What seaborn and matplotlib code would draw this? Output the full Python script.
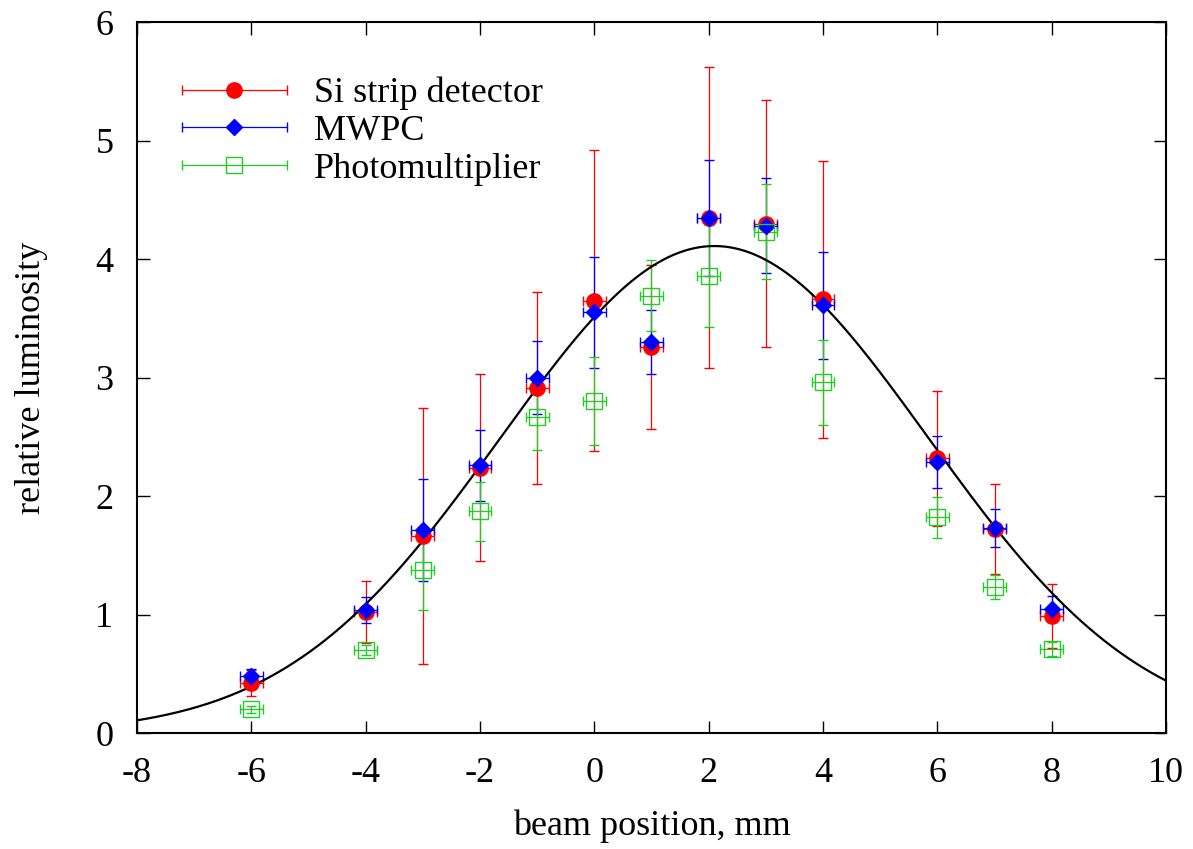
import numpy as np
import matplotlib
matplotlib.use("Agg")
import matplotlib.pyplot as plt
import seaborn as sns
from matplotlib.container import ErrorbarContainer
from matplotlib.legend_handler import HandlerErrorbar

# beam positions (mm), same for all three detectors
beam_pos = [-6, -4, -3, -2, -1, 0, 1, 2, 3, 4, 6, 7, 8]
pos_err = 0.2

si_lum = [0.42, 1.02, 1.66, 2.24, 2.91, 3.65, 3.26, 4.35, 4.30, 3.66, 2.32, 1.72, 0.99]
si_err = [0.11, 0.26, 1.08, 0.79, 0.81, 1.27, 0.69, 1.27, 1.04, 1.17, 0.57, 0.38, 0.27]

mwpc_lum = [0.48, 1.04, 1.71, 2.26, 3.00, 3.55, 3.30, 4.35, 4.28, 3.61, 2.29, 1.73, 1.05]
mwpc_err = [0.06, 0.11, 0.43, 0.30, 0.31, 0.47, 0.27, 0.49, 0.40, 0.45, 0.22, 0.16, 0.11]

pm_lum = [0.20, 0.70, 1.38, 1.87, 2.67, 2.80, 3.69, 3.86, 4.23, 2.96, 1.82, 1.23, 0.71]
pm_err = [0.03, 0.04, 0.34, 0.25, 0.28, 0.37, 0.30, 0.43, 0.40, 0.36, 0.17, 0.10, 0.06]

# gaussian fit drawn through the points
fit_amp, fit_mean, fit_sigma = 4.11, 2.1, 3.74

sns.set_style("ticks")
plt.rcParams["font.family"] = ["Liberation Serif", "DejaVu Serif"]
plt.rcParams["font.size"] = 26
plt.rcParams["axes.unicode_minus"] = False
plt.rcParams["xtick.direction"] = "in"
plt.rcParams["ytick.direction"] = "in"
plt.rcParams["xtick.top"] = True
plt.rcParams["ytick.right"] = True
for key in ["text.color", "axes.labelcolor", "xtick.color", "ytick.color", "axes.edgecolor"]:
    plt.rcParams[key] = "black"

fig = plt.figure(figsize=(11.93, 8.49), dpi=100)
ax = fig.add_axes([0.1148, 0.1366, 0.8626, 0.8374])

series = [
    ("Si strip detector", si_lum, si_err, "o", "red", 11, "red"),
    ("MWPC", mwpc_lum, mwpc_err, "D", "blue", 8, "blue"),
    ("Photomultiplier", pm_lum, pm_err, "s", "#22cc22", 11, "none"),
]

for name, lum, err, mk, col, ms, face in series:
    ax.errorbar(beam_pos, lum, yerr=err, xerr=pos_err, fmt=mk, color=col,
                ms=ms, mfc=face, mec=col, mew=1.0, elinewidth=0.9,
                capsize=3.6, capthick=0.9, label="_nolegend_")
    # legend sample: horizontal bar only, like gnuplot's key
    ax.errorbar([np.nan], [np.nan], xerr=[pos_err], fmt=mk, color=col,
                ms=ms, mfc=face, mec=col, mew=1.0, elinewidth=0.9,
                capsize=3.6, capthick=0.9, label=name)

fit_x = np.linspace(-8, 10, 400)
fit_y = fit_amp * np.exp(-(fit_x - fit_mean) ** 2 / (2 * fit_sigma ** 2))
sns.lineplot(x=fit_x, y=fit_y, color="black", lw=1.6, ax=ax)

ax.set_xlim(-8, 10)
ax.set_ylim(0, 6)
ax.set_xticks(range(-8, 11, 2))
ax.set_yticks(range(0, 7))
ax.tick_params(length=9, width=1.0, pad=17, labelsize=26)
for sp in ax.spines.values():
    sp.set_linewidth(1.5)

ax.set_xlabel("beam position, mm", labelpad=14)
ax.set_ylabel("relative luminosity", labelpad=34)

ax.legend(loc="upper left", bbox_to_anchor=(0.0437, 0.923), frameon=False,
          handlelength=2.9, handletextpad=0.75, labelspacing=0.12,
          borderaxespad=0, borderpad=0, numpoints=1,
          handler_map={ErrorbarContainer: HandlerErrorbar(xerr_size=1.45)})

fig.savefig("out.png", dpi=100, facecolor="white")
